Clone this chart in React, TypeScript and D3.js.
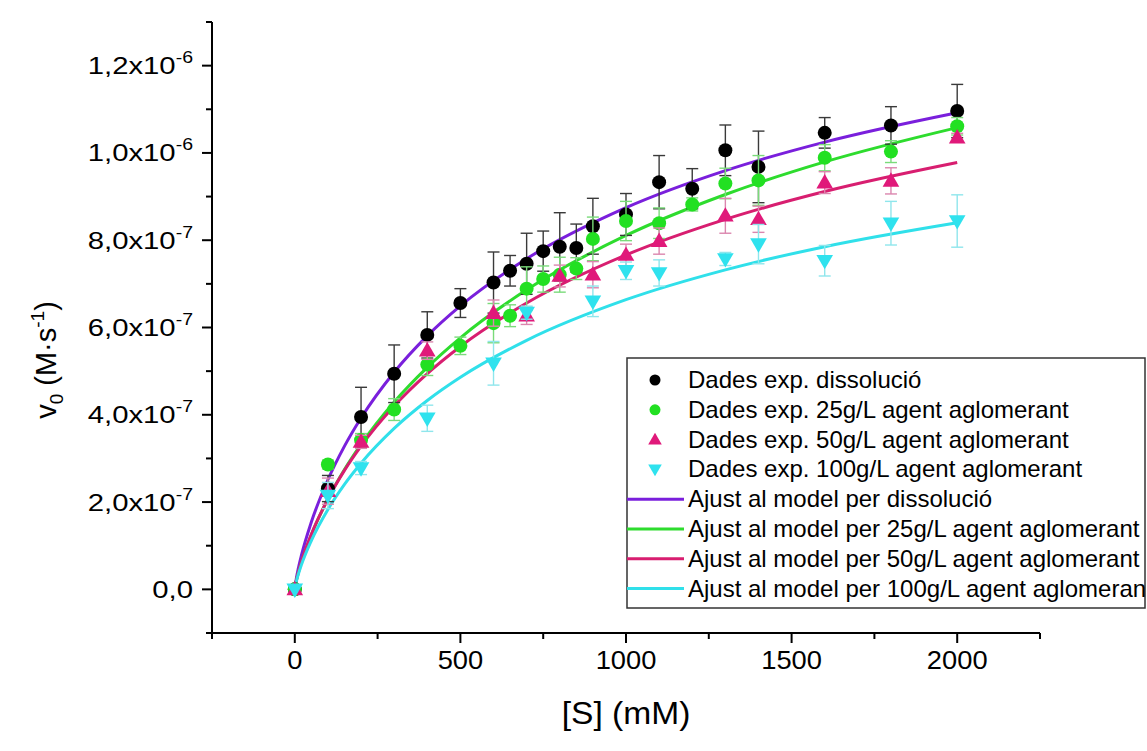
import React from "react";
import * as d3 from "d3";

// ---- data (values in units of 1e-7 M/s, S in mM) ----
const blackS = [0, 100, 200, 300, 400, 500, 600, 650, 700, 750, 800, 850, 900, 1000, 1100, 1200, 1300, 1400, 1600, 1800, 2000];
const blackV = [0, 2.31, 3.95, 4.94, 5.83, 6.56, 7.03, 7.30, 7.46, 7.75, 7.85, 7.82, 8.32, 8.59, 9.33, 9.18, 10.06, 9.68, 10.46, 10.63, 10.96];
const blackE = [0, 0.3, 0.68, 0.66, 0.53, 0.33, 0.70, 0.35, 0.70, 0.46, 0.78, 0.55, 0.64, 0.48, 0.61, 0.46, 0.58, 0.82, 0.35, 0.43, 0.61];

const greenS = [0, 100, 200, 300, 400, 500, 600, 650, 700, 750, 800, 850, 900, 1000, 1100, 1200, 1300, 1400, 1600, 1800, 2000];
const greenV = [0, 2.86, 3.42, 4.12, 5.15, 5.58, 6.10, 6.27, 6.89, 7.11, 7.21, 7.35, 8.03, 8.44, 8.39, 8.82, 9.30, 9.37, 9.89, 10.03, 10.61];
const greenE = [0, 0.1, 0.15, 0.25, 0.25, 0.2, 0.45, 0.25, 0.5, 0.3, 0.4, 0.25, 0.5, 0.45, 0.35, 0.15, 0.35, 0.57, 0.3, 0.25, 0.2];

const pinkS = [0, 100, 200, 400, 600, 700, 800, 900, 1000, 1100, 1300, 1400, 1600, 1800, 2000];
const pinkV = [0, 2.25, 3.38, 5.47, 6.33, 6.27, 7.18, 7.21, 7.66, 7.98, 8.56, 8.48, 9.32, 9.36, 10.35];
const pinkE = [0, 0.3, 0.15, 0.2, 0.3, 0.2, 0.25, 0.3, 0.25, 0.3, 0.4, 0.3, 0.25, 0.3, 0.1];

const cyanS = [0, 100, 200, 400, 600, 700, 900, 1000, 1100, 1300, 1400, 1600, 1800, 2000];
const cyanV = [0, 2.15, 2.78, 3.92, 5.18, 6.34, 6.60, 7.30, 7.25, 7.57, 7.91, 7.53, 8.39, 8.44];
const cyanE = [0, 0.3, 0.15, 0.3, 0.5, 0.15, 0.35, 0.2, 0.3, 0.15, 0.45, 0.35, 0.5, 0.6];

// fitted model curves
const fitS = [0, 5, 10, 20, 50, 100, 150, 200, 300, 400, 500, 700, 1000, 1300, 1600, 2000];
const fitPurple = [0, 0.266, 0.457, 0.779, 1.543, 2.511, 3.282, 3.927, 4.976, 5.809, 6.495, 7.575, 8.746, 9.595, 10.248, 10.92];
const fitGreen = [0, 0.211, 0.364, 0.624, 1.251, 2.071, 2.745, 3.322, 4.292, 5.088, 5.764, 6.863, 8.109, 9.048, 9.794, 10.58];
const fitPink = [0, 0.214, 0.370, 0.633, 1.261, 2.071, 2.727, 3.282, 4.201, 4.944, 5.566, 6.560, 7.662, 8.478, 9.115, 9.78];
const fitCyan = [0, 0.191, 0.329, 0.563, 1.119, 1.832, 2.407, 2.891, 3.687, 4.327, 4.859, 5.706, 6.637, 7.321, 7.852, 8.40];

const xTicks = [0, 500, 1000, 1500, 2000];
const xMinor = [-250, 250, 750, 1250, 1750, 2250];
const yTicks = [0, 2, 4, 6, 8, 10, 12];
const yTickBase = ["0,0", "2,0x10", "4,0x10", "6,0x10", "8,0x10", "1,0x10", "1,2x10"];
const yTickExp = ["", "-7", "-7", "-7", "-7", "-6", "-6"];
const yMinor = [-1, 1, 3, 5, 7, 9, 11, 13];

const legendLabels = [
  "Dades exp. dissolució",
  "Dades exp. 25g/L agent aglomerant",
  "Dades exp. 50g/L agent aglomerant",
  "Dades exp. 100g/L agent aglomerant",
  "Ajust al model per dissolució",
  "Ajust al model per 25g/L agent aglomerant",
  "Ajust al model per 50g/L agent aglomerant",
  "Ajust al model per 100g/L agent aglomerant",
];

const SC = 1e-7;
const FONT = "'Liberation Sans', Arial, Helvetica, sans-serif";

export default function App() {
  const x = d3.scaleLinear().domain([-250, 2250]).range([212, 1040]);
  const y = d3.scaleLinear().domain([-1 * SC, 13 * SC]).range([633, 22]);

  const line = d3
    .line<[number, number]>()
    .x((d) => x(d[0]))
    .y((d) => y(d[1] * SC))
    .curve(d3.curveMonotoneX);

  const fits = [
    { v: fitPurple, c: "#7A1FDC" },
    { v: fitGreen, c: "#2EDC2E" },
    { v: fitPink, c: "#D81E70" },
    { v: fitCyan, c: "#30E0EA" },
  ];

  const triUp = d3.symbol(d3.symbolTriangle, 120)() as string;
  const triUpSmall = d3.symbol(d3.symbolTriangle, 80)() as string;

  const series = [
    { s: blackS, v: blackV, e: blackE, c: "#000000", ec: "#3a3a3a", shape: "circle" },
    { s: greenS, v: greenV, e: greenE, c: "#22E022", ec: "#7ADB7A", shape: "circle" },
    { s: pinkS, v: pinkV, e: pinkE, c: "#E0197A", ec: "#DB86AE", shape: "up" },
    { s: cyanS, v: cyanV, e: cyanE, c: "#2FE2EE", ec: "#8FE6EC", shape: "down" },
  ];

  const marker = (shape: string, c: string, cx: number, cy: number, small = false, key?: any) => {
    if (shape === "circle")
      return <circle key={key} cx={cx} cy={cy} r={small ? 5.5 : 7} fill={c} />;
    const p = small ? triUpSmall : triUp;
    return (
      <path
        key={key}
        d={p}
        fill={c}
        transform={`translate(${cx},${cy + (shape === "up" ? 1 : -1)}) rotate(${shape === "down" ? 180 : 0})`}
      />
    );
  };

  const legX = 627;
  const legY = 358;
  const legW = 518;
  const legH = 250;
  const rowY0 = 380;
  const rowDy = 29.8;

  return (
    <svg
      width={1147}
      height={751}
      style={{ position: "absolute", left: 0, top: 0, background: "#fff", fontFamily: FONT }}
    >
      <rect x={0} y={0} width={1147} height={751} fill="#fff" />
      <defs>
        <clipPath id="legclip">
          <rect x={legX} y={legY} width={legW} height={legH} />
        </clipPath>
      </defs>

      {/* fitted lines */}
      {fits.map((f, i) => (
        <path
          key={"fit" + i}
          d={line(fitS.map((s, j) => [s, f.v[j]] as [number, number])) as string}
          fill="none"
          stroke={f.c}
          strokeWidth={3}
        />
      ))}

      {/* data: error bars + markers */}
      {series.map((sr, i) => (
        <g key={"ser" + i}>
          {sr.s.map((s, j) =>
            sr.e[j] > 0 ? (
              <g key={"e" + j} stroke={sr.ec} strokeWidth={1.4}>
                <line x1={x(s)} x2={x(s)} y1={y((sr.v[j] - sr.e[j]) * SC)} y2={y((sr.v[j] + sr.e[j]) * SC)} />
                <line x1={x(s) - 6} x2={x(s) + 6} y1={y((sr.v[j] - sr.e[j]) * SC)} y2={y((sr.v[j] - sr.e[j]) * SC)} />
                <line x1={x(s) - 6} x2={x(s) + 6} y1={y((sr.v[j] + sr.e[j]) * SC)} y2={y((sr.v[j] + sr.e[j]) * SC)} />
              </g>
            ) : null
          )}
          {sr.s.map((s, j) => marker(sr.shape, sr.c, x(s), y(sr.v[j] * SC), false, "m" + j))}
        </g>
      ))}

      {/* axes */}
      <g stroke="#000" strokeWidth={2} fill="none">
        <line x1={212} x2={1040} y1={633} y2={633} />
        <line x1={212} x2={212} y1={22} y2={634} />
        {xTicks.map((t) => (
          <line key={"xt" + t} x1={x(t)} x2={x(t)} y1={633} y2={643} />
        ))}
        {xMinor.map((t) => (
          <line key={"xm" + t} x1={x(t)} x2={x(t)} y1={633} y2={639} />
        ))}
        {yTicks.map((t) => (
          <line key={"yt" + t} x1={202} x2={212} y1={y(t * SC)} y2={y(t * SC)} />
        ))}
        {yMinor.map((t) => (
          <line key={"ym" + t} x1={206} x2={212} y1={y(t * SC)} y2={y(t * SC)} />
        ))}
      </g>

      {/* tick labels */}
      {xTicks.map((t) => (
        <text
          key={"xl" + t}
          transform={`translate(${x(t)},669) scale(1.05,1)`}
          textAnchor="middle"
          fontSize={26}
          fill="#000"
        >
          {t}
        </text>
      ))}
      {yTicks.map((t, i) => (
        <text
          key={"yl" + t}
          transform={`translate(193,${y(t * SC) + 8.5}) scale(1.22,1)`}
          textAnchor="end"
          fontSize={24}
          fill="#000"
        >
          {yTickBase[i]}
          {yTickExp[i] ? (
            <tspan fontSize={16} dy={-11}>
              {yTickExp[i]}
            </tspan>
          ) : null}
        </text>
      ))}

      {/* axis titles */}
      <text transform="translate(626,724) scale(1.05,1)" textAnchor="middle" fontSize={32} fill="#000">
        [S] (mM)
      </text>
      <text transform="translate(56,360) rotate(-90)" textAnchor="middle" fontSize={29} fill="#000">
        v<tspan fontSize={19} dy={7}>0</tspan>
        <tspan dy={-7}> (M·s</tspan>
        <tspan fontSize={19} dy={-12}>-1</tspan>
        <tspan dy={12}>)</tspan>
      </text>

      {/* legend */}
      <rect x={legX} y={legY} width={legW} height={legH} fill="#fff" stroke="#333" strokeWidth={1.5} />
      <g clipPath="url(#legclip)">
        {legendLabels.map((lab, i) => {
          const cy = rowY0 + i * rowDy;
          let sym: any;
          if (i < 4) {
            const sr = series[i];
            sym = marker(sr.shape, sr.c, 655, cy, true);
          } else {
            sym = <line x1={legX} x2={684} y1={cy} y2={cy} stroke={fits[i - 4].c} strokeWidth={3} />;
          }
          return (
            <g key={"leg" + i}>
              {sym}
              <text x={688} y={cy + 8} fontSize={24} fill="#000">
                {lab}
              </text>
            </g>
          );
        })}
      </g>
    </svg>
  );
}
